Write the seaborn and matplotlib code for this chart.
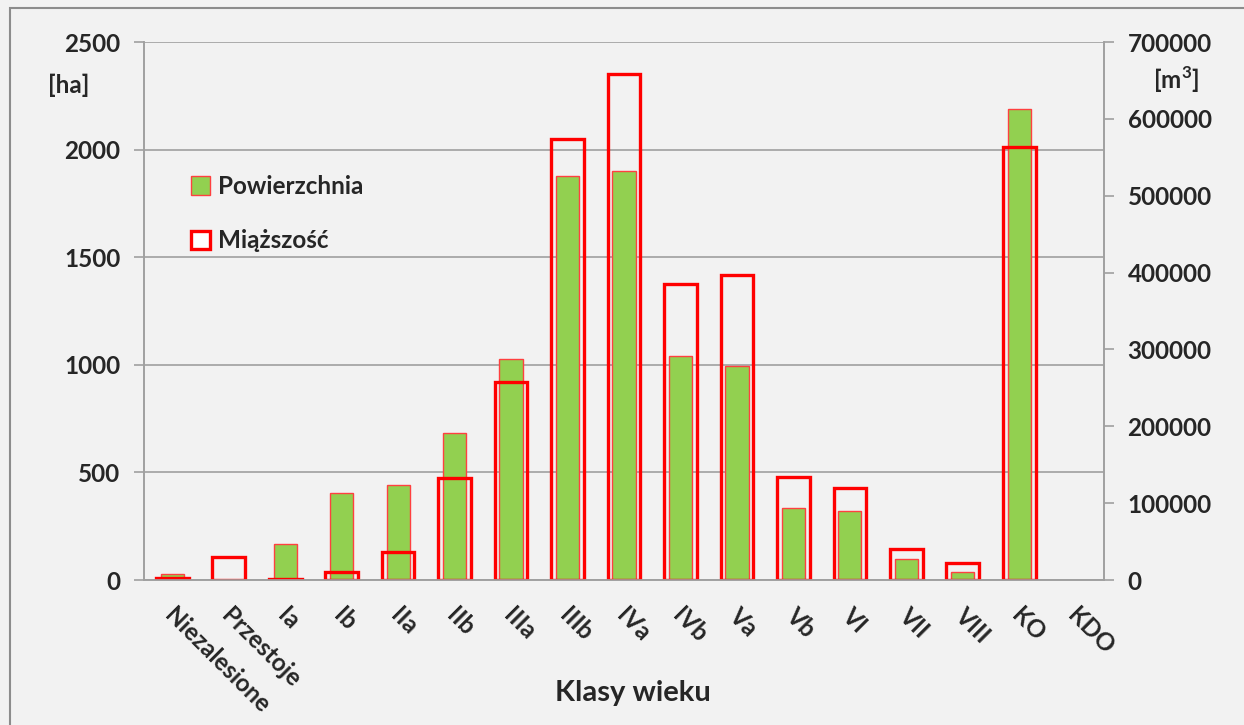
import pandas as pd
import numpy as np
import matplotlib
matplotlib.use("Agg")
import matplotlib.pyplot as plt
import matplotlib.transforms as mtrans
from matplotlib.patches import Patch, Rectangle
import seaborn as sns

classes = ["Niezalesione", "Przestoje", "Ia", "Ib", "IIa", "IIb", "IIIa", "IIIb",
           "IVa", "IVb", "Va", "Vb", "VI", "VII", "VIII", "KO", "KDO"]
area_ha = [27, 0, 166, 404, 441, 684, 1029, 1878, 1902, 1039, 996, 335, 322, 99, 37, 2189, np.nan]
volume_m3 = [2000, 30300, 1500, 10000, 36800, 132500, 258000, 573400, 658000, 385500,
             397200, 133600, 120100, 39900, 22500, 563000, np.nan]

df = pd.DataFrame({"Klasa": classes, "Powierzchnia": area_ha, "Miazszosc": volume_m3})

bg = "#f2f2f2"
grid_c = "#a0a0a0"

sns.set_style("white")
plt.rcParams["font.family"] = ["Lato", "DejaVu Sans"]

fig = plt.figure(figsize=(12.44, 7.25), dpi=100, facecolor=bg)
ax = fig.add_axes([144 / 1244, 1 - 580 / 725, 960 / 1244, 538 / 725])
ax.set_facecolor(bg)

# green bars: area on the left axis
sns.barplot(data=df, x="Klasa", y="Powierzchnia", order=classes, ax=ax,
            color="#92d050", edgecolor="#ff4040", linewidth=1, width=0.41,
            saturation=1, errorbar=None, zorder=2)

# red outlines: volume on the right axis
ax2 = ax.twinx()
sns.barplot(data=df, x="Klasa", y="Miazszosc", order=classes, ax=ax2,
            color="red", edgecolor="red", linewidth=2.4, width=0.58,
            saturation=1, errorbar=None)
for p in ax2.patches:
    p.set_facecolor("none")
    p.set_edgecolor("red")

ax.set_xlim(-0.5, len(classes) - 0.5)
ax.set_ylim(0, 2500)
ax2.set_ylim(0, 700000)
ax.set_yticks(range(0, 2501, 500))
ax2.set_yticks(range(0, 700001, 100000))

ax.yaxis.grid(True, color=grid_c, lw=1.2, zorder=0)
ax.set_axisbelow(True)

for a in (ax, ax2):
    a.spines["top"].set_visible(False)
    for s in ("left", "right", "bottom"):
        a.spines[s].set_color(grid_c)
        a.spines[s].set_linewidth(1.2)
    a.set_xlabel("")
    a.set_ylabel("")

ax.tick_params(axis="y", length=7, color=grid_c, width=1.2, pad=10, labelsize=17.5)
ax2.tick_params(axis="y", length=7, color=grid_c, width=1.2, pad=10, labelsize=17.5)
for lab in ax.get_yticklabels() + ax2.get_yticklabels():
    lab.set_fontweight("bold")

# x ticks: labels at centres, marks at category boundaries
ax.set_xticks(range(len(classes)))
ax.set_xticklabels(classes, rotation=-45, ha="left", va="center",
                   rotation_mode="anchor", fontsize=17.5, fontweight="bold")
ax.tick_params(axis="x", which="major", length=0, pad=23)
ax.set_xticks(np.arange(-0.5, len(classes), 1), minor=True)
ax.tick_params(axis="x", which="minor", length=7, color=grid_c, width=1.2)
ax2.tick_params(axis="x", length=0)
offset = mtrans.ScaledTranslation(-4 / 100, 0, fig.dpi_scale_trans)
for lab in ax.get_xticklabels():
    lab.set_transform(lab.get_transform() + offset)

fig.text(633 / 1244, 1 - 693 / 725, "Klasy wieku", ha="center", va="center",
         fontsize=21, fontweight="bold")
fig.text(69 / 1244, 1 - 85 / 725, "[ha]", ha="center", va="center",
         fontsize=17.5, fontweight="bold")
fig.text(1176 / 1244, 1 - 80 / 725, "[m$^\\mathregular{3}$]", ha="center", va="center",
         fontsize=17.5, fontweight="bold")

handles = [Patch(facecolor="#92d050", edgecolor="#ff4040", linewidth=1),
           Patch(facecolor="white", edgecolor="red", linewidth=2.4)]
leg = ax2.legend(handles, ["Powierzchnia", "Miąższość"], loc="upper left",
                 bbox_to_anchor=(0.026, 0.794), frameon=False, fontsize=17.5,
                 handlelength=0.8, handleheight=0.8, labelspacing=1.3,
                 handletextpad=0.3)
for t in leg.get_texts():
    t.set_fontweight("bold")

fig.patches.append(Rectangle((10 / 1244, -0.1), 1.2, 1 - 8 / 725 + 0.1,
                             transform=fig.transFigure, fill=False,
                             edgecolor="#8c8c8c", linewidth=1.5))

fig.savefig("out.png", dpi=100, facecolor=bg)
